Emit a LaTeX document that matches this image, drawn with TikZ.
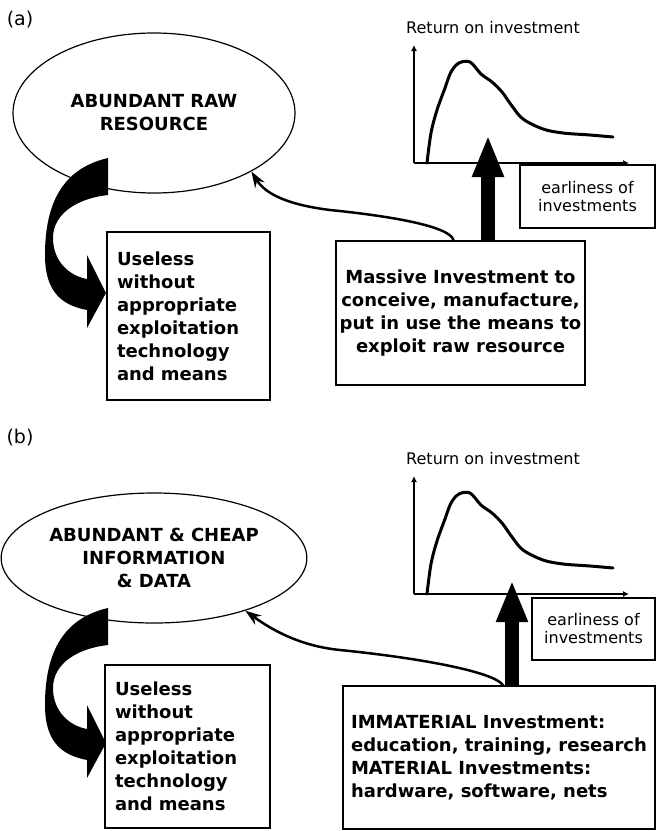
\documentclass[tikz,border=0pt]{standalone}
\usepackage{fontspec}
\setmainfont{DejaVu Sans}
\usetikzlibrary{shapes,arrows.meta,calc}

\begin{document}
\begin{tikzpicture}[x=1pt,y=-1pt]
\tikzset{
	bubble/.style = {ellipse, draw, line width=1.2pt, align=center, font=\bfseries\fontsize{18}{23}\selectfont},
	text box/.style = {rectangle, draw, line width=1.5pt, font=\bfseries\fontsize{18}{23}\selectfont},
	small box/.style = {rectangle, draw, line width=1.5pt, align=center, font=\fontsize{16}{18}\selectfont},
	tag/.style = {font=\fontsize{19}{22}\selectfont},
	axis/.style = {line width=1.5pt, -{Latex[length=6pt,width=6pt]}},
	roi curve/.style = {line width=3pt, line join=round, line cap=round},
	fat arrow/.style = {line width=14pt, -{Triangle[length=42pt,width=29pt]}},
	thin arrow/.style = {line width=2.5pt, -{Stealth[length=16pt,width=11pt]}},
}
\useasboundingbox (0,0) rectangle (657,831);

% (a) raw resource
\node (tagA) [tag] at (20,20) {(a)};
\node (resA) [bubble, minimum width=282pt, minimum height=160pt] at (154,113) {ABUNDANT RAW\\RESOURCE};
\node (uselessA) [text box, align=left, text width=143pt, inner xsep=10pt, minimum height=168pt] at (188.5,316)
	{Useless\\without\\appropriate\\exploitation\\technology\\and means};
\node (investA) [text box, align=center, minimum width=249pt, minimum height=144pt] at (460.5,313)
	{Massive Investment to\\conceive, manufacture,\\put in use the means to\\exploit raw resource};
\node (earlyA) [small box, minimum width=135pt, minimum height=63pt] at (587.5,196.5) {earliness of\\investments};

% (b) information
\node (tagB) [tag] at (20,438) {(b)};
\node (resB) [bubble, minimum width=282pt, minimum height=130pt] at (154,558)
	{ABUNDANT \& CHEAP\\INFORMATION\\\& DATA};
\node (uselessB) [text box, align=left, text width=145pt, inner xsep=10pt, minimum height=163pt] at (187.5,746.5)
	{Useless\\without\\appropriate\\exploitation\\technology\\and means};
\node (investB) [text box, align=left, minimum width=312pt, minimum height=143pt] at (499,757.5)
	{IMMATERIAL Investment:\\education, training, research\\MATERIAL Investments:\\hardware, software, nets};
\node (earlyB) [small box, minimum width=123pt, minimum height=62pt] at (593.5,629) {earliness of\\investments};

% return on investment charts
\foreach \dy/\t in {0/A,431/B}{
	\begin{scope}[shift={(0,\dy)}]
	\node (title\t) [font=\fontsize{16}{18}\selectfont] at (493,28) {Return on investment};
	\coordinate (orig\t) at (414,163);
	\draw[axis] (orig\t) -- (414,45);
	\draw[axis] (orig\t) -- (629,163);
	\draw[roi curve] plot[smooth, tension=0.55] coordinates {
		(427,163) (431,133) (437,110) (445,88) (451,72) (459,63) (470,62)
		(481,74) (492,82) (502,92) (512,106) (523,119) (543,129) (563,133) (590,135) (613,137)};
	\end{scope}
}

% curled black arrows
\foreach \dy in {0,450}{
	\fill[shift={(0,\dy)}] (108,158) -- (108,195) .. controls (80,198) and (53,212) .. (53,238)
		.. controls (53,262) and (70,276) .. (87,279) -- (87,255) -- (106,293) -- (87,328) -- (87,310)
		.. controls (60,305) and (45,290) .. (45,255) .. controls (45,200) and (65,168) .. (108,158) -- cycle;
}

% investment arrows
\coordinate (peakA) at (488,135);
\coordinate (peakB) at (512,580);
\draw[fat arrow] (investA.north -| peakA) -- (peakA);
\draw[fat arrow] (investB.north -| peakB) -- (peakB);
\draw[thin arrow] ([xshift=-7pt]investA.north) .. controls (450,225) and (380,215) .. (330,210)
	.. controls (290,205) and (266,195) .. (resA.-31);
\draw[thin arrow] ([xshift=4pt]investB.north) .. controls (495,672) and (420,658) .. (340,650)
	.. controls (300,646) and (272,630) .. (resB.-30);

\end{tikzpicture}
\end{document}
